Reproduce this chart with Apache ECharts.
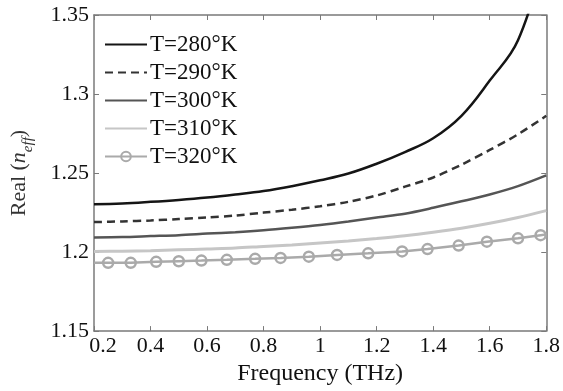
<!DOCTYPE html>
<html>
<head>
<meta charset="utf-8">
<script src="https://cdn.jsdelivr.net/npm/echarts@6/dist/echarts.min.js"></script>
<style>
  html, body { margin: 0; padding: 0; background: #fff; }
  #chart { width: 563px; height: 391px; }
</style>
</head>
<body>
<div id="chart"></div>
<script>
// frequency grid (THz)
const freq = [0.2, 0.3, 0.4, 0.5, 0.6, 0.7, 0.8, 0.9, 1.0, 1.1, 1.2, 1.3, 1.4, 1.5, 1.6, 1.7, 1.8];
// Real(n_eff) per temperature
const t280 = [1.2303, 1.2308, 1.2318, 1.233, 1.2345, 1.2364, 1.2386, 1.2417, 1.2454, 1.2497, 1.2559, 1.2633, 1.272, 1.2862, 1.3085, 1.334, 1.39];
const t290 = [1.219, 1.2194, 1.22, 1.2209, 1.2219, 1.2231, 1.225, 1.2268, 1.229, 1.2318, 1.2358, 1.2414, 1.2472, 1.2553, 1.2646, 1.2745, 1.2862];
const t300 = [1.2093, 1.2095, 1.2101, 1.2107, 1.2117, 1.2126, 1.2138, 1.2154, 1.2172, 1.2194, 1.2219, 1.2243, 1.228, 1.2321, 1.2364, 1.2417, 1.2485];
const t310 = [1.2004, 1.2005, 1.2008, 1.2014, 1.202, 1.2026, 1.2036, 1.2045, 1.2057, 1.207, 1.2086, 1.2104, 1.2126, 1.2151, 1.2182, 1.2219, 1.2262];
// the 320 K curve has its own sample points (markers)
const freq320 = [0.2, 0.25, 0.33, 0.42, 0.5, 0.58, 0.67, 0.77, 0.86, 0.96, 1.06, 1.17, 1.29, 1.38, 1.49, 1.59, 1.7, 1.78, 1.8];
const t320 = [1.1932, 1.1932, 1.1932, 1.1938, 1.1942, 1.1946, 1.1951, 1.1957, 1.1963, 1.1971, 1.1982, 1.1992, 1.2004, 1.2019, 1.2041, 1.2066, 1.2087, 1.2107, 1.2112];
const names = ["T=280°K", "T=290°K", "T=300°K", "T=310°K", "T=320°K"];

const font = "Liberation Serif";
const pair = (xs, ys) => xs.map((x, i) => [x, ys[i]]);

var myChart = echarts.init(document.getElementById("chart"));

const axisLine = { show: true, lineStyle: { color: "#7a7a7a", width: 1.5 } };
const tick = { show: true, inside: true, length: 5, lineStyle: { color: "#7a7a7a" } };
const noMark = { color: "rgba(0,0,0,0)", borderColor: "rgba(0,0,0,0)", borderWidth: 0 };

// markers at interior points only, the end points just carry the line
const data320 = pair(freq320, t320).map((p, i) =>
  i === 0 || i === freq320.length - 1 ? { value: p, symbol: "none" } : { value: p }
);

myChart.setOption({
  animation: false,
  grid: { left: 88, right: 16, top: 15, bottom: 53 },
  legend: {
    data: names.map((n, i) => (i < 4 ? { name: n, itemStyle: noMark } : { name: n })),
    orient: "vertical",
    left: 99,
    top: 28,
    itemWidth: 42,
    itemHeight: 12,
    itemGap: 5,
    textStyle: { fontFamily: font, fontSize: 23, color: "#111", padding: [0, 0, 0, -2] },
  },
  xAxis: [
    {
      type: "value",
      min: 0.2,
      max: 1.8,
      interval: 0.2,
      name: "Frequency (THz)",
      nameLocation: "middle",
      nameGap: 30,
      nameTextStyle: { fontFamily: font, fontSize: 24, color: "#111" },
      axisLine: axisLine,
      axisTick: tick,
      splitLine: { show: false },
      axisLabel: {
        fontFamily: font,
        fontSize: 22,
        color: "#111",
        margin: 4,
        formatter: (v) => (Math.abs(v - 0.2) < 1e-9 ? "{first|0.2}" : String(+v.toFixed(1))),
        rich: { first: { fontFamily: font, fontSize: 22, color: "#111", padding: [0, 0, 0, 18] } },
      },
    },
    {
      type: "value",
      position: "top",
      min: 0.2,
      max: 1.8,
      interval: 0.2,
      axisLine: axisLine,
      axisTick: tick,
      axisLabel: { show: false },
      splitLine: { show: false },
    },
  ],
  yAxis: [
    {
      type: "value",
      min: 1.15,
      max: 1.35,
      interval: 0.05,
      name: "{a|Real (}{i|n}{s|eff}{a|)}",
      nameLocation: "middle",
      nameGap: 58,
      nameTextStyle: {
        fontFamily: font,
        fontSize: 22,
        color: "#333",
        rich: {
          a: { fontFamily: font, fontSize: 22, color: "#333", lineHeight: 34, verticalAlign: "middle" },
          i: { fontFamily: font, fontSize: 22, color: "#333", fontStyle: "italic", lineHeight: 34, verticalAlign: "middle" },
          s: { fontFamily: font, fontSize: 15, color: "#333", fontStyle: "italic", lineHeight: 15, verticalAlign: "bottom" },
        },
      },
      axisLine: axisLine,
      axisTick: tick,
      splitLine: { show: false },
      axisLabel: {
        fontFamily: font,
        fontSize: 22,
        color: "#111",
        margin: 5,
        formatter: (v) => String(+v.toFixed(2)),
      },
    },
    {
      type: "value",
      position: "right",
      min: 1.15,
      max: 1.35,
      interval: 0.05,
      axisLine: axisLine,
      axisTick: tick,
      axisLabel: { show: false },
      splitLine: { show: false },
    },
  ],
  series: [
    {
      name: names[0],
      type: "line",
      data: pair(freq, t280),
      smooth: 0.4,
      symbol: "none",
      lineStyle: { color: "#151515", width: 2.5 },
      itemStyle: { color: "#151515" },
    },
    {
      name: names[1],
      type: "line",
      data: pair(freq, t290),
      smooth: 0.3,
      symbol: "none",
      lineStyle: { color: "#333", width: 2.5, type: [8, 5] },
      itemStyle: { color: "#333" },
    },
    {
      name: names[2],
      type: "line",
      data: pair(freq, t300),
      smooth: 0.3,
      symbol: "none",
      lineStyle: { color: "#555", width: 2.5 },
      itemStyle: { color: "#555" },
    },
    {
      name: names[3],
      type: "line",
      data: pair(freq, t310),
      smooth: 0.3,
      symbol: "none",
      lineStyle: { color: "#c6c6c6", width: 3 },
      itemStyle: { color: "#c6c6c6" },
    },
    {
      name: names[4],
      type: "line",
      data: data320,
      symbol: "circle",
      symbolSize: 10,
      lineStyle: { color: "#aaa", width: 2.5 },
      itemStyle: { color: "rgba(0,0,0,0)", borderColor: "#aaa", borderWidth: 2.5 },
    },
  ],
});
</script>
</body>
</html>
